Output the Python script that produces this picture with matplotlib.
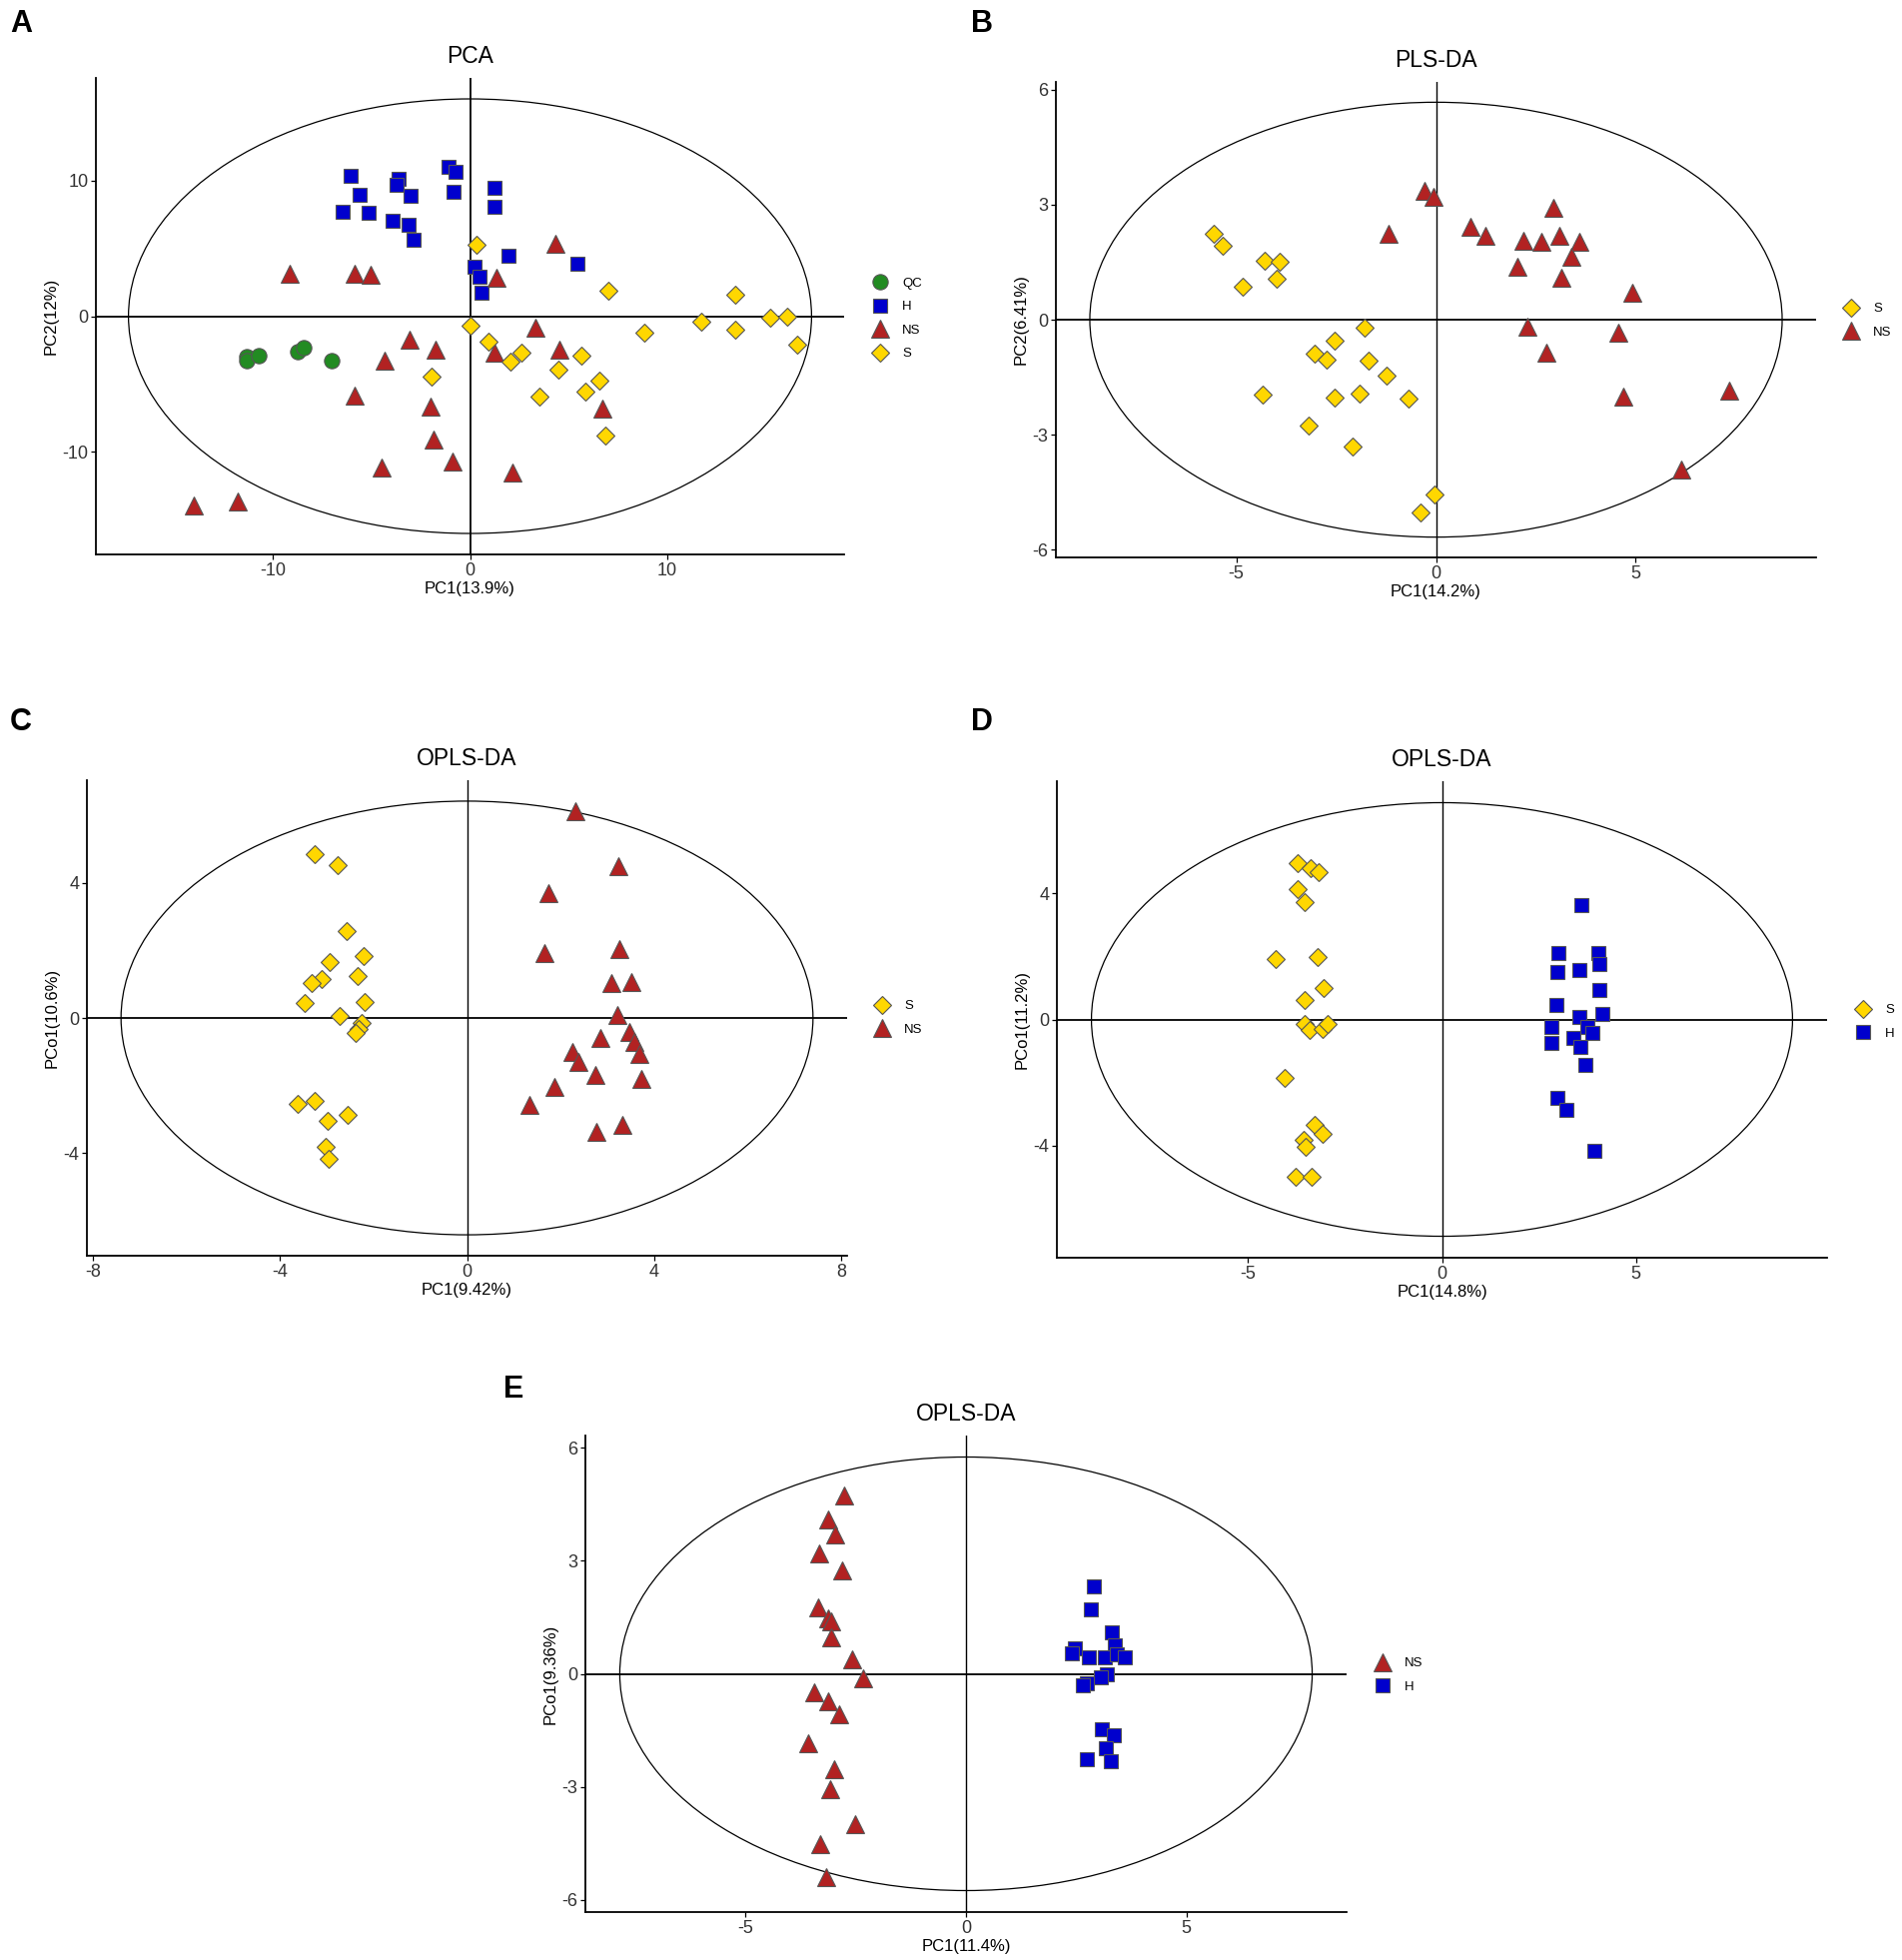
import matplotlib
matplotlib.use("Agg")
import matplotlib.pyplot as plt
from matplotlib.patches import Ellipse
from matplotlib.lines import Line2D

plt.rcParams['font.family'] = ['Liberation Sans', 'DejaVu Sans']
plt.rcParams['axes.unicode_minus'] = False

# ---- data ----
# A: PCA
a_qc_x = [-11.3, -11.3, -10.7, -8.75, -8.4, -7.0]
a_qc_y = [-3.0, -3.25, -2.95, -2.65, -2.35, -3.25]
a_h_x = [-6.07, -5.58, -6.44, -5.12, -3.61, -3.70, -2.99, -3.94, -3.11, -2.87,
         -1.08, -0.74, -0.86, 1.23, 1.26, 1.97, 5.42, 0.25, 0.49, 0.59]
a_h_y = [10.34, 8.99, 7.69, 7.61, 10.13, 9.72, 8.90, 7.08, 6.73, 5.64,
         11.01, 10.69, 9.16, 9.46, 8.11, 4.46, 3.88, 3.67, 2.94, 1.70]
a_ns_x = [-9.12, -5.86, -5.05, 1.36, 4.35, 3.33, -3.08, -1.76, 1.23, -4.31,
          4.53, -5.86, -2.00, 6.72, -1.85, -0.89, -4.50, 2.16, -13.99, -11.77]
a_ns_y = [3.14, 3.14, 3.08, 2.85, 5.35, -0.88, -1.70, -2.44, -2.67, -3.32,
          -2.44, -5.87, -6.70, -6.84, -9.13, -10.75, -11.16, -11.54, -13.98, -13.69]
a_s_x = [0.34, 7.03, 13.44, 0.0, 11.71, 13.44, 15.19, 16.06, 16.58, 8.84,
         0.96, 2.62, 2.03, 5.64, -1.94, 4.50, 6.53, 5.82, 3.51, 6.84]
a_s_y = [5.26, 1.91, 1.56, -0.68, -0.44, -0.97, -0.09, 0.0, -2.14, -1.20,
         -1.85, -2.67, -3.38, -2.88, -4.43, -3.96, -4.73, -5.55, -5.96, -8.84]

# B: PLS-DA
b_s_x = [-5.57, -5.34, -4.30, -3.91, -3.98, -4.83, -1.79, -2.55, -3.04, -2.75,
         -1.70, -1.25, -4.34, -2.54, -1.91, -0.69, -3.18, -2.08, -0.03, -0.40]
b_s_y = [2.23, 1.92, 1.55, 1.50, 1.07, 0.86, -0.22, -0.55, -0.88, -1.04,
         -1.07, -1.46, -1.96, -2.03, -1.92, -2.07, -2.76, -3.30, -4.57, -5.02]
b_ns_x = [-0.29, -0.06, -1.18, 0.86, 1.25, 2.94, 2.19, 2.65, 3.10, 3.58,
          3.38, 2.05, 3.15, 4.91, 2.29, 4.57, 2.77, 4.69, 7.34, 6.13]
b_ns_y = [3.36, 3.21, 2.23, 2.41, 2.20, 2.93, 2.07, 2.02, 2.20, 2.02,
          1.63, 1.38, 1.09, 0.70, -0.18, -0.34, -0.86, -2.00, -1.86, -3.91]

# C: OPLS-DA S vs NS
c_s_x = [-3.25, -2.76, -2.57, -2.21, -2.93, -2.34, -3.11, -3.33, -3.48, -2.18,
         -2.73, -2.25, -2.31, -2.38, -3.63, -3.25, -2.56, -2.99, -3.02, -2.95]
c_s_y = [4.87, 4.54, 2.57, 1.84, 1.65, 1.25, 1.15, 1.04, 0.44, 0.46,
         0.05, -0.15, -0.33, -0.44, -2.54, -2.45, -2.88, -3.06, -3.81, -4.19]
c_ns_x = [2.31, 3.24, 1.74, 1.66, 3.26, 3.09, 3.51, 3.21, 3.47, 3.58,
          2.85, 2.26, 2.38, 3.68, 2.74, 3.73, 1.87, 1.34, 3.32, 2.76]
c_ns_y = [6.14, 4.50, 3.71, 1.93, 2.04, 1.04, 1.07, 0.10, -0.41, -0.72,
          -0.59, -1.00, -1.29, -1.08, -1.69, -1.81, -2.05, -2.57, -3.18, -3.39]

# D: OPLS-DA S vs H
d_s_x = [-3.73, -3.39, -3.18, -3.73, -3.53, -4.28, -3.21, -3.04, -3.54, -3.54,
         -3.42, -3.07, -2.94, -4.06, -3.27, -3.07, -3.57, -3.51, -3.76, -3.35]
d_s_y = [4.96, 4.79, 4.68, 4.14, 3.73, 1.91, 1.97, 0.99, 0.61, -0.14,
         -0.34, -0.31, -0.14, -1.86, -3.35, -3.61, -3.81, -4.04, -5.0, -5.0]
d_h_x = [3.59, 2.99, 4.02, 4.06, 2.98, 3.54, 4.05, 2.94, 4.14, 3.53,
         2.83, 3.75, 3.86, 3.39, 2.83, 3.57, 3.69, 2.96, 3.20, 3.92]
d_h_y = [3.64, 2.10, 2.10, 1.75, 1.49, 1.58, 0.94, 0.45, 0.18, 0.08,
         -0.23, -0.23, -0.44, -0.60, -0.75, -0.86, -1.43, -2.47, -2.86, -4.16]

# E: OPLS-DA NS vs H
e_ns_x = [-2.77, -3.13, -2.97, -3.32, -2.80, -3.35, -3.13, -3.06, -3.06, -2.58,
          -2.33, -3.45, -3.12, -2.88, -3.57, -2.99, -3.09, -2.52, -3.31, -3.16]
e_ns_y = [4.73, 4.09, 3.69, 3.18, 2.73, 1.75, 1.47, 1.40, 0.98, 0.39,
          -0.13, -0.50, -0.73, -1.07, -1.84, -2.53, -3.06, -3.99, -4.52, -5.39]
e_h_x = [2.91, 2.83, 3.31, 2.46, 3.37, 2.79, 3.14, 3.43, 3.60, 2.41,
         3.19, 3.06, 2.73, 2.66, 3.09, 3.35, 3.17, 2.74, 3.28]
e_h_y = [2.31, 1.70, 1.11, 0.67, 0.76, 0.43, 0.45, 0.51, 0.43, 0.55,
         0.0, -0.08, -0.26, -0.30, -1.48, -1.64, -1.97, -2.26, -2.31]

# confidence ellipse semi-axes (x, y)
ell_a = (17.3, 16.05)
ell_b = (8.67, 5.67)
ell_c = (7.4, 6.43)
ell_d = (9.03, 6.87)
ell_e = (7.85, 5.75)

# ---- styles ----
groups = {
    'QC': dict(marker='o', ms=11, mfc='#228B22'),
    'H': dict(marker='s', ms=9.5, mfc='#0000CD'),
    'NS': dict(marker='^', ms=12.5, mfc='#B22222'),
    'S': dict(marker='D', ms=8.7, mfc='#FFD700'),
}
EDGE = '#555555'

W, H = 1904, 1962
fig = plt.figure(figsize=(W / 100, H / 100), dpi=100)


def px_axes(l, t, r, b):
    return fig.add_axes([l / W, 1 - b / H, (r - l) / W, (b - t) / H])


def panel(rect, letter, letter_xy, title, xlabel, ylabel, series, ell,
          xlim, ylim, xticks, yticks, leg_xy, vlw=1.0):
    ax = px_axes(*rect)
    ax.axhline(0, color='black', lw=1.3, zorder=1)
    ax.axvline(0, color='black', lw=vlw, zorder=1)
    ax.add_patch(Ellipse((0, 0), 2 * ell[0], 2 * ell[1], fill=False,
                         ec='black', lw=0.9, zorder=1))
    handles = []
    for name, xs, ys in series:
        st = groups[name]
        ax.plot(xs, ys, ls='none', marker=st['marker'], ms=st['ms'],
                mfc=st['mfc'], mec=EDGE, mew=0.8, zorder=3)
        handles.append(Line2D([], [], ls='none', marker=st['marker'],
                              ms=st['ms'], mfc=st['mfc'], mec=EDGE, mew=0.8,
                              label=name))
    ax.set_xlim(*xlim)
    ax.set_ylim(*ylim)
    ax.set_xticks(xticks)
    ax.set_yticks(yticks)
    for sp in ['top', 'right']:
        ax.spines[sp].set_visible(False)
    for sp in ['left', 'bottom']:
        ax.spines[sp].set_linewidth(1.3)
    ax.tick_params(length=3.5, width=0.9, pad=2, labelsize=13,
                   labelcolor='#333333')
    ax.set_xlabel(xlabel, fontsize=12, labelpad=2)
    ax.set_ylabel(ylabel, fontsize=12, labelpad=3)
    ax.set_title(title, fontsize=16.5, pad=10.5)
    fig.text(letter_xy[0] / W, 1 - letter_xy[1] / H, letter, fontsize=22,
             fontweight='bold', ha='center', va='center')
    fig.legend(handles=handles, loc='center left',
               bbox_to_anchor=(leg_xy[0] / W, 1 - leg_xy[1] / H),
               frameon=False, fontsize=9.5, handlelength=1.2,
               handletextpad=1.1, labelspacing=0.85, borderpad=0,
               borderaxespad=0)
    return ax


panel((96, 78, 845, 555), 'A', (21, 24), 'PCA', 'PC1(13.9%)', 'PC2(12%)',
      [('QC', a_qc_x, a_qc_y), ('H', a_h_x, a_h_y),
       ('NS', a_ns_x, a_ns_y), ('S', a_s_x, a_s_y)],
      ell_a, (-18.95, 18.95), (-17.6, 17.6), [-10, 0, 10], [-10, 0, 10],
      (873, 319), vlw=1.3)

panel((1057, 82, 1818, 558), 'B', (983, 24), 'PLS-DA', 'PC1(14.2%)',
      'PC2(6.41%)', [('S', b_s_x, b_s_y), ('NS', b_ns_x, b_ns_y)],
      ell_b, (-9.52, 9.52), (-6.2, 6.2), [-5, 0, 5], [-6, -3, 0, 3, 6],
      (1845, 321))

panel((87, 781, 848, 1257), 'C', (21, 723), 'OPLS-DA', 'PC1(9.42%)',
      'PCo1(10.6%)', [('S', c_s_x, c_s_y), ('NS', c_ns_x, c_ns_y)],
      ell_c, (-8.13, 8.13), (-7.05, 7.05), [-8, -4, 0, 4, 8], [-4, 0, 4],
      (875, 1019))

panel((1058, 782, 1829, 1259), 'D', (983, 723), 'OPLS-DA', 'PC1(14.8%)',
      'PCo1(11.2%)', [('S', d_s_x, d_s_y), ('H', d_h_x, d_h_y)],
      ell_d, (-9.92, 9.92), (-7.55, 7.55), [-5, 0, 5], [-4, 0, 4],
      (1857, 1023))

panel((586, 1437, 1348, 1914), 'E', (514, 1391), 'OPLS-DA', 'PC1(11.4%)',
      'PCo1(9.36%)', [('NS', e_ns_x, e_ns_y), ('H', e_h_x, e_h_y)],
      ell_e, (-8.63, 8.63), (-6.32, 6.32), [-5, 0, 5], [-6, -3, 0, 3, 6],
      (1376, 1677))

fig.savefig('out.png', dpi=100, facecolor='white')
